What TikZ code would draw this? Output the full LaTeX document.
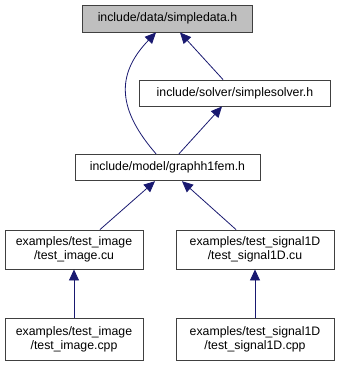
\documentclass[tikz,border=0pt]{standalone}
\usepackage{fontspec}
\setmainfont{Liberation Sans}
\usetikzlibrary{arrows.meta}
\definecolor{edgeblue}{HTML}{191970}
\definecolor{boxline}{HTML}{404040}
\definecolor{rootfill}{HTML}{BFBFBF}
\tikzset{
  file/.style={draw=boxline, line width=0.9pt, fill=white, inner sep=0pt,
    align=center, font=\fontsize{12.3}{14}\selectfont},
  root/.style={file, fill=rootfill},
  dep/.style={draw=edgeblue, line width=0.8pt,
    -{Triangle[length=11pt, width=10pt, fill=edgeblue]}},
}
\begin{document}
\begin{tikzpicture}[x=1pt, y=-1pt]
\useasboundingbox (0,0) rectangle (344,365);
\node[root, minimum width=170pt, minimum height=27pt] (sd) at (167.5,18.5) {include/data/simpledata.h};
\node[file, minimum width=191pt, minimum height=26pt] (ss) at (235,93) {include/solver/simplesolver.h};
\node[file, minimum width=185pt, minimum height=26.5pt] (gf) at (167.5,167.5) {include/model/graphh1fem.h};
\node[file, minimum width=138pt, minimum height=39pt] (ic) at (74,249.5) {examples/test\_image\\/test\_image.cu};
\node[file, minimum width=158pt, minimum height=39pt] (sc) at (255,249.5) {examples/test\_signal1D\\/test\_signal1D.cu};
\node[file, minimum width=138pt, minimum height=42pt] (ip) at (74,339) {examples/test\_image\\/test\_image.cpp};
\node[file, minimum width=158pt, minimum height=42pt] (sp) at (255,339) {examples/test\_signal1D\\/test\_signal1D.cpp};

\draw[dep] (ss.north -| 223,0) -- (sd.south -| 180,0);
\draw[dep] (gf.north -| 156,0) .. controls (118,110) and (115,75) .. (sd.south -| 156,0);
\draw[dep] (gf.north -| 179,0) -- (ss.south -| 222,0);
\draw[dep] (ic.north -| 100,0) -- (gf.south -| 155,0);
\draw[dep] (sc.north -| 236,0) -- (gf.south -| 182,0);
\draw[dep] (ip) -- (ic);
\draw[dep] (sp) -- (sc);
\end{tikzpicture}
\end{document}
